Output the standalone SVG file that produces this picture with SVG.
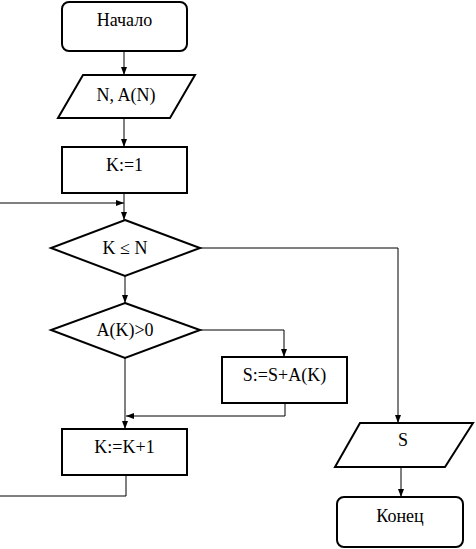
<svg xmlns="http://www.w3.org/2000/svg" width="476" height="549" viewBox="0 0 476 549">
<style>
.s{fill:#fff;stroke:#000;stroke-width:2}
.c{fill:none;stroke:#000;stroke-width:1}
.t{font-family:'Liberation Serif','Times New Roman',serif;font-size:18px;fill:#000;text-anchor:middle}
</style>
<defs>
<marker id="a" markerWidth="8" markerHeight="8" refX="8" refY="4" orient="auto" markerUnits="userSpaceOnUse">
<path d="M0,1 L8,4 L0,7 Z" fill="#000"/>
</marker>
</defs>
<g id="start"><rect class="s" x="62" y="2" width="125" height="49" rx="7"/><text class="t" x="124.5" y="26">Начало</text></g>
<g id="input"><polygon class="s" points="83,75 195,75 170,118 58,118"/><text class="t" x="126" y="101">N, A(N)</text></g>
<g id="init"><rect class="s" x="62" y="147" width="125" height="46"/><text class="t" x="124.5" y="171">K:=1</text></g>
<g id="cond1"><polygon class="s" points="125,220 200,248 125,276 51,248"/><text class="t" x="125" y="254">K ≤ N</text></g>
<g id="cond2"><polygon class="s" points="125,303 200,330 125,358 51,330"/><text class="t" x="125" y="336">A(K)&gt;0</text></g>
<g id="sum"><rect class="s" x="222" y="357" width="125" height="46"/><text class="t" x="284.5" y="381">S:=S+A(K)</text></g>
<g id="inc"><rect class="s" x="62" y="429" width="125" height="46"/><text class="t" x="124.5" y="453">K:=K+1</text></g>
<g id="output"><polygon class="s" points="360,423 473,423 445,467 335,467"/><text class="t" x="403" y="446">S</text></g>
<g id="end"><rect class="s" x="337" y="497" width="126" height="50" rx="7"/><text class="t" x="400" y="522">Конец</text></g>
<g id="connectors">
<path class="c" d="M124,52 V75" marker-end="url(#a)"/>
<path class="c" d="M124,118 V147" marker-end="url(#a)"/>
<path class="c" d="M124,193 V220" marker-end="url(#a)"/>
<path class="c" d="M0,203 H124" marker-end="url(#a)"/>
<path class="c" d="M200,248 H398 V423" marker-end="url(#a)"/>
<path class="c" d="M125,276 V303" marker-end="url(#a)"/>
<path class="c" d="M200,330 H284 V357" marker-end="url(#a)"/>
<path class="c" d="M285,403 V416 H126" marker-end="url(#a)"/>
<path class="c" d="M125,358 V429" marker-end="url(#a)"/>
<path class="c" d="M126,475 V496 H0"/>
<path class="c" d="M401,467 V497" marker-end="url(#a)"/>
</g>
</svg>
